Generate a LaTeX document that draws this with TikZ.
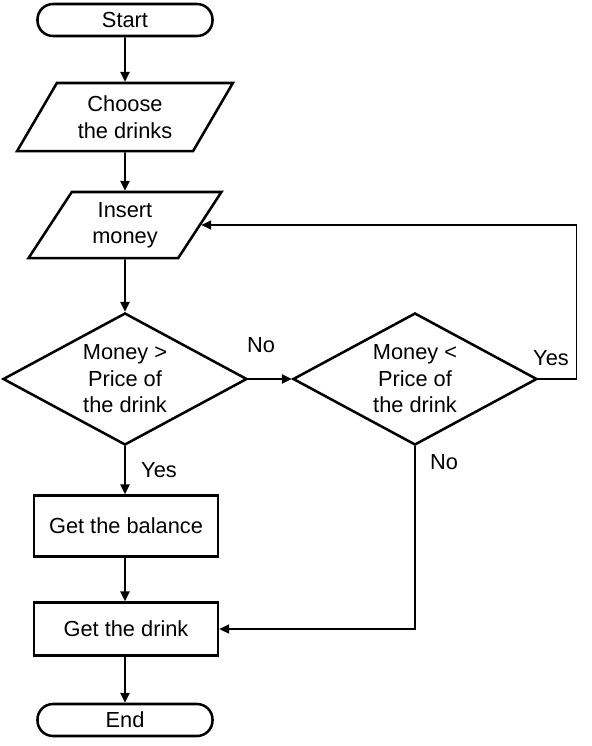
\documentclass[tikz,border=0pt]{standalone}
\usepackage{fontspec}
\setmainfont{Liberation Sans}
\usetikzlibrary{arrows.meta,shapes.geometric,positioning}

\begin{document}
\begin{tikzpicture}[x=0.025cm,y=-0.025cm,
  every node/.style={font=\fontsize{15.5}{18.8}\selectfont,align=center},
  terminal/.style={draw,line width=1.8pt,rounded corners=0.39cm,minimum width=4.375cm,minimum height=0.8cm,inner sep=0pt},
  inout/.style={draw,line width=1.8pt,trapezium,trapezium stretches=true,inner sep=0pt},
  process/.style={draw,line width=1.8pt,minimum width=4.6cm,inner sep=0pt},
  decision/.style={draw,line width=1.8pt,diamond,aspect=1.85,minimum width=6.1cm,minimum height=3.3cm,inner sep=0pt},
  flow/.style={-{Triangle[length=7pt,width=6.5pt]},line width=1.4pt},
  backflow/.style={flow,line width=0.9pt},
  answer/.style={inner sep=0pt}]
\useasboundingbox (0,0) rectangle (592,746);
\node[terminal] (start) at (125,20) {Start};
\node[inout,trapezium left angle=57,trapezium right angle=123,minimum width=5.4cm,minimum height=1.7cm] (choose) at (125,117) {Choose\\the drinks};
\node[inout,trapezium left angle=60,trapezium right angle=120,minimum width=4.85cm,minimum height=1.65cm] (insert) at (125,225) {Insert\\money};
\node[decision] (check1) at (125,379) {Money >\\Price of\\the drink};
\node[decision] (check2) at (415,379) {Money <\\Price of\\the drink};
\node[process,minimum height=1.525cm] (balance) at (126,526) {Get the balance};
\node[process,minimum height=1.325cm] (drink) at (126,629) {Get the drink};
\node[terminal] (end) at (125,720) {End};
\node[answer] (no1) at (261,345) {No};
\node[answer] (yes2) at (551,358) {Yes};
\node[answer] (yes1) at (159,470) {Yes};
\node[answer] (no2) at (444,462) {No};
\draw[flow] (start) -- (choose);
\draw[flow] (choose) -- (insert);
\draw[flow] (insert) -- (check1);
\draw[flow] (check1) -- (check2);
\draw[flow] (check1) -- (balance.north -| check1.south);
\draw[flow] (balance.south -| check1.south) -- (drink.north -| check1.south);
\draw[flow] (drink.south -| end.north) -- (end);
\draw[backflow] (check2.south) |- (drink.east);
\draw[backflow] (check2.east) -- ++(38,0) |- (insert.east);
\end{tikzpicture}
\end{document}
